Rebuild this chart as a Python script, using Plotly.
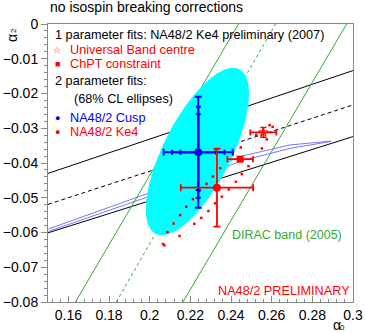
import numpy as np
import plotly.graph_objects as go

# universal band (black) : alpha0 -> alpha2
ub_a0 = [0.15, 0.30]
ub_upper = [-0.0430, -0.0134]
ub_centre = [-0.0519, -0.0233]
ub_lower = [-0.0601, -0.0324]

# thin blue band (cusp 1-parameter constraint)
blue_a0 = [0.1502, 0.1984, 0.2455, 0.2690, 0.2892]
blue_up = [-0.0590, -0.0489, -0.0380, -0.0348, -0.0337]
blue_lo = [-0.0597, -0.0499, -0.0393, -0.0358, -0.0338]

# DIRAC band (green)
dirac_left_a0 = [0.1635, 0.2437]
dirac_mid_a0 = [0.1836, 0.2619]
dirac_right_a0 = [0.2164, 0.2969]
dirac_a2 = [-0.08, 0.0]

# NA48/2 Cusp : point, errors, 68% CL ellipse
cusp_a0, cusp_a2 = 0.2239, -0.0369
cusp_err_a0, cusp_err_a2 = 0.0170, 0.0160
cusp_ticks_a0 = [0.0088, 0.0129]
cusp_ticks_a2 = [0.0109, 0.0131]
ell_c0, ell_c2 = 0.2235, -0.0367
ell_s0, ell_s2, ell_rho = 0.0254, 0.0241, 0.69

# NA48/2 Ke4
ke4_a0, ke4_a2 = 0.2331, -0.0471
ke4_err_a0, ke4_err_a2 = 0.0178, 0.0112

# Ke4 ellipse drawn as dots
dots_a0 = [0.2066, 0.2088, 0.2118, 0.2150, 0.2180, 0.2213, 0.2245, 0.2280, 0.2311, 0.2347,
           0.2448, 0.2524, 0.2590,
           0.2072, 0.2147, 0.2219, 0.2254, 0.2289, 0.2322, 0.2355, 0.2389, 0.2424, 0.2453,
           0.2486, 0.2552, 0.2576, 0.2605]
dots_a2 = [-0.0633, -0.0599, -0.0574, -0.0550, -0.0526, -0.0504, -0.0480, -0.0460, -0.0439, -0.0415,
           -0.0355, -0.0319, -0.0291,
           -0.0637, -0.0610, -0.0575, -0.0558, -0.0538, -0.0516, -0.0497, -0.0476, -0.0454, -0.0432,
           -0.0409, -0.0358, -0.0332, -0.0296]

# 1 parameter fits
chpt_a0, chpt_a2, chpt_err_a0 = 0.2445, -0.0389, 0.0063
ubc_a0, ubc_a2, ubc_err_a0, ubc_err_a2 = 0.2559, -0.0312, 0.0064, 0.0014

x_ticks = [0.16, 0.18, 0.20, 0.22, 0.24, 0.26, 0.28, 0.30]
x_labels = ["0.16", "0.18", "0.2", "0.22", "0.24", "0.26", "0.28", "0.3"]
y_ticks = [0, -0.01, -0.02, -0.03, -0.04, -0.05, -0.06, -0.07, -0.08]
y_labels = ["0", "\u22120.01", "\u22120.02", "\u22120.03", "\u22120.04",
            "\u22120.05", "\u22120.06", "\u22120.07", "\u22120.08"]

RED = "#ff0000"
BLUE = "#0000ff"
GREEN = "#33aa33"
FONT = "Liberation Sans, Arial, sans-serif"

fig = go.Figure()

for ys, dash in [(ub_upper, "solid"), (ub_centre, "4px,3px"), (ub_lower, "solid")]:
    fig.add_trace(go.Scatter(x=ub_a0, y=ys, mode="lines",
                             line=dict(color="black", width=1, dash=dash)))

for ys in [blue_up, blue_lo]:
    fig.add_trace(go.Scatter(x=blue_a0, y=ys, mode="lines", line=dict(color="#5555ff", width=0.8)))

for xs, dash in [(dirac_left_a0, "solid"), (dirac_mid_a0, "3px,3px"), (dirac_right_a0, "solid")]:
    fig.add_trace(go.Scatter(x=xs, y=dirac_a2, mode="lines",
                             line=dict(color=GREEN, width=1, dash=dash)))

# cusp ellipse
t = np.linspace(0, 2 * np.pi, 200)
ex = ell_c0 + ell_s0 * np.cos(t)
ey = ell_c2 + ell_s2 * (ell_rho * np.cos(t) + np.sqrt(1 - ell_rho ** 2) * np.sin(t))
fig.add_trace(go.Scatter(x=ex, y=ey, mode="lines", fill="toself", fillcolor="#00ffff",
                         line=dict(width=0, color="#00ffff")))

fig.add_trace(go.Scatter(x=dots_a0, y=dots_a2, mode="markers",
                         marker=dict(symbol="square", size=2.5, color=RED)))

# cusp point with inner ticks
for ex_a0, ex_a2 in zip(cusp_ticks_a0, cusp_ticks_a2):
    fig.add_trace(go.Scatter(x=[cusp_a0], y=[cusp_a2], mode="markers", marker=dict(size=1, color=BLUE),
                             error_x=dict(type="constant", value=ex_a0, color=BLUE, thickness=2, width=2.5),
                             error_y=dict(type="constant", value=ex_a2, color=BLUE, thickness=2, width=2.5)))
fig.add_trace(go.Scatter(x=[cusp_a0], y=[cusp_a2], mode="markers",
                         marker=dict(size=8, color=BLUE),
                         error_x=dict(type="constant", value=cusp_err_a0, color=BLUE, thickness=2, width=3.5),
                         error_y=dict(type="constant", value=cusp_err_a2, color=BLUE, thickness=2, width=3.5)))

fig.add_trace(go.Scatter(x=[ke4_a0], y=[ke4_a2], mode="markers",
                         marker=dict(size=8, color=RED),
                         error_x=dict(type="constant", value=ke4_err_a0, color=RED, thickness=1.8, width=3.5),
                         error_y=dict(type="constant", value=ke4_err_a2, color=RED, thickness=1.8, width=3.5)))

fig.add_trace(go.Scatter(x=[chpt_a0], y=[chpt_a2], mode="markers",
                         marker=dict(symbol="square", size=7, color=RED),
                         error_x=dict(type="constant", value=chpt_err_a0, color=RED, thickness=1.8, width=3)))

fig.add_trace(go.Scatter(x=[ubc_a0], y=[ubc_a2], mode="markers",
                         marker=dict(symbol="star-open", size=7, color=RED, line=dict(width=1, color=RED)),
                         error_x=dict(type="constant", value=ubc_err_a0, color=RED, thickness=1.8, width=3),
                         error_y=dict(type="constant", value=ubc_err_a2, color=RED, thickness=1.5, width=3)))

axis_common = dict(showgrid=False, zeroline=False, showline=True, linecolor="#888888", linewidth=1,
                   mirror=True, tickcolor="#888888", automargin=False,
                   tickfont=dict(size=14, color="black", family=FONT))
fig.update_xaxes(range=[0.15, 0.30], tickvals=x_ticks, ticktext=x_labels, ticks="inside", ticklen=6,
                 minor=dict(dtick=0.004, ticks="inside", ticklen=3, tickcolor="#888888"), **axis_common)
fig.update_yaxes(range=[-0.08, 0.0], tickvals=y_ticks, ticktext=y_labels, ticks="outside", ticklen=6,
                 minor=dict(dtick=0.002, ticks="outside", ticklen=3, tickcolor="#888888"), **axis_common)

ann = []


def txt(x, y, s, color="black", size=12.7, xanchor="left", **kw):
    ann.append(dict(x=x, y=y, xref="paper", yref="paper", text=s, showarrow=False,
                    xanchor=xanchor, yanchor="middle", font=dict(size=size, color=color, family=FONT), **kw))


txt(0.0, 1.061, "no isospin breaking corrections", size=14)
txt(0.018, 0.960, "1 parameter fits: NA48/2 Ke4 preliminary (2007)")
txt(0.030, 0.906, "\u2606", RED, size=9, xanchor="center")
txt(0.067, 0.906, "Universal Band centre", RED)
txt(0.030, 0.856, "\u25a0", RED, size=9, xanchor="center")
txt(0.067, 0.856, "ChPT constraint", RED)
txt(0.018, 0.795, "2 parameter fits:")
txt(0.080, 0.730, "(68% CL ellipses)")
txt(0.030, 0.662, "\u25cf", BLUE, size=9, xanchor="center")
txt(0.067, 0.662, "NA48/2 Cusp", BLUE)
txt(0.030, 0.612, "\u25cf", RED, size=9, xanchor="center")
txt(0.067, 0.612, "NA48/2 Ke4", RED)
txt(0.597, 0.241, "DIRAC band (2005)", GREEN, size=12.5)
txt(0.997, 0.040, "NA48/2 PRELIMINARY", RED, xanchor="right")
# axis titles (alpha with subscript)
txt(0.9466, -0.081, "\u03b1", size=14, xanchor="center")
txt(0.967, -0.0917, "0", size=8, xanchor="center")
txt(-0.118, 0.950, "\u03b1", size=14, xanchor="center", textangle=-90)
txt(-0.113, 0.977, "2", size=8, xanchor="center", textangle=-90)

fig.update_layout(width=366, height=333, margin=dict(l=48, r=13, t=24, b=31),
                  plot_bgcolor="white", paper_bgcolor="white", showlegend=False,
                  annotations=ann, font=dict(family=FONT))

# drop the browser's default body margin so the figure sits at the page origin
fig.write_html("out.html", config={"displayModeBar": False},
               post_script="document.body.style.margin='0px';")
